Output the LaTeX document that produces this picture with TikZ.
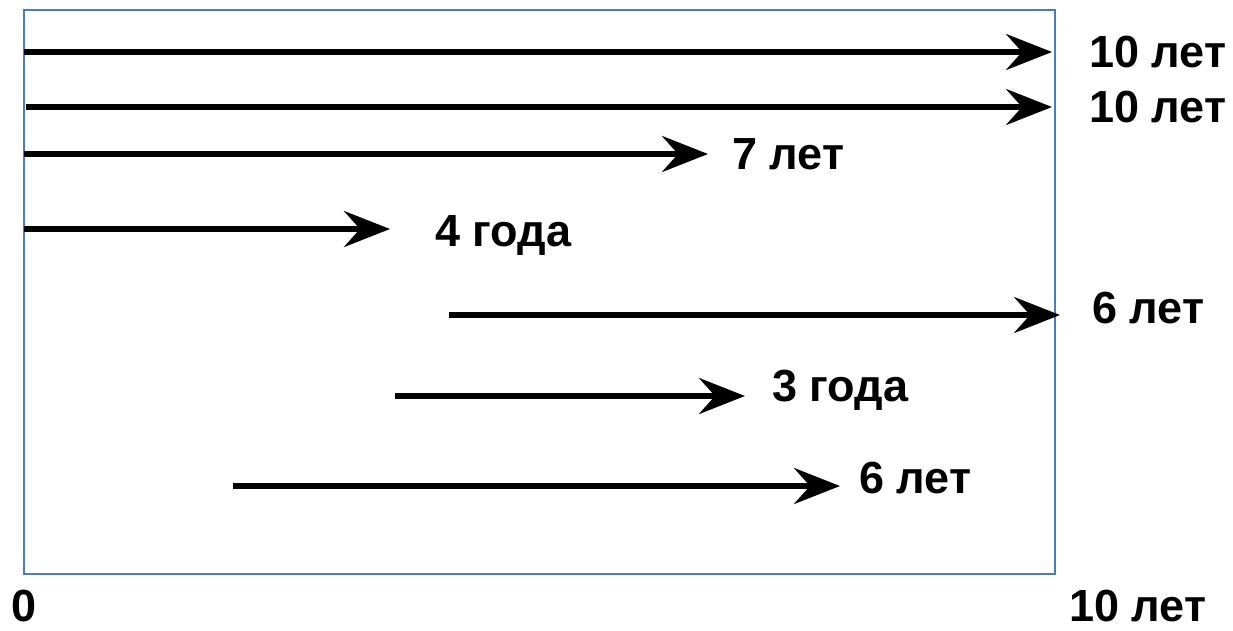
\documentclass[tikz,border=0pt]{standalone}
\usepackage{fontspec}
\setmainfont{Liberation Sans}
\usetikzlibrary{arrows.meta}
\definecolor{framecol}{HTML}{4A7EBB}
\tikzset{
  frame/.style={draw=framecol, line width=2.5pt},
  span/.style={line width=5.5pt, -{Stealth[length=46pt,width=36pt,inset=16pt]}},
  lbl/.style={anchor=base west, inner sep=0pt, font=\fontsize{45}{50}\selectfont\bfseries},
}
\begin{document}
\begin{tikzpicture}[x=1pt,y=-1pt]
\useasboundingbox (0,0) rectangle (1233,630);
\draw[frame] (24,10) rectangle (1055,574);

% start and end points of the time spans
\coordinate (s1) at (24,52);   \coordinate (e1) at (1052,52);
\coordinate (s2) at (26,107);  \coordinate (e2) at (1052,107);
\coordinate (s3) at (24,154);  \coordinate (e3) at (708,154);
\coordinate (s4) at (24,229);  \coordinate (e4) at (390,229);
\coordinate (s5) at (449,315); \coordinate (e5) at (1060,315);
\coordinate (s6) at (395,396); \coordinate (e6) at (745,396);
\coordinate (s7) at (233,486); \coordinate (e7) at (840,486);

\draw[span] (s1) -- (e1);
\draw[span] (s2) -- (e2);
\draw[span] (s3) -- (e3);
\draw[span] (s4) -- (e4);
\draw[span] (s5) -- (e5);
\draw[span] (s6) -- (e6);
\draw[span] (s7) -- (e7);

\node[lbl] (l1) at (1089,67)  {10 лет};
\node[lbl] (l2) at (1089,122) {10 лет};
\node[lbl] (l3) at (732,169)  {7 лет};
\node[lbl] (l4) at (435,246)  {4 года};
\node[lbl] (l5) at (1092,323) {6 лет};
\node[lbl] (l6) at (772,401)  {3 года};
\node[lbl] (l7) at (859,493)  {6 лет};
\node[lbl] (a0) at (11,621)   {0};
\node[lbl] (a10) at (1069,621) {10 лет};
\end{tikzpicture}
\end{document}
